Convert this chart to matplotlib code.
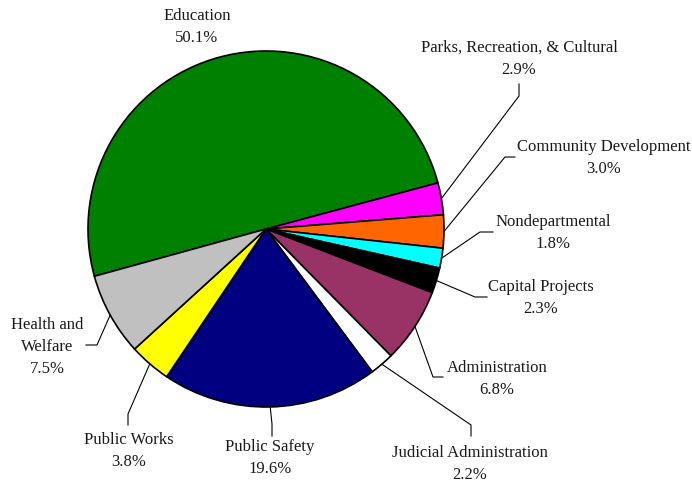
import numpy as np
import matplotlib.pyplot as plt

plt.rcParams['font.family'] = ['Liberation Serif', 'DejaVu Serif']

# data
categories = ['Education', 'Parks, Recreation, & Cultural', 'Community Development',
              'Nondepartmental', 'Capital Projects', 'Administration',
              'Judicial Administration', 'Public Safety', 'Public Works',
              'Health and\nWelfare']
shares = [50.1, 2.9, 3.0, 1.8, 2.3, 6.8, 2.2, 19.6, 3.8, 7.5]
colors = ['#008000', '#FF00FF', '#FF6600', '#00FFFF', '#000000', '#993366',
          '#FFFFFF', '#000080', '#FFFF00', '#C0C0C0']

W, H = 692, 485


def px(x, y):
    # image pixel coords -> axes coords (y up)
    return x, H - y


# label layout: text centre, leader elbow points (pixel coords)
label_pos = [(197, 27), (519, 59), (604, 158), (553, 233), (541, 298),
             (497, 379), (470, 464), (270, 458), (129, 451), (47, 347)]
elbows = [
    [],
    [(519, 97), (519, 85)],
    [(505, 158), (515, 158)],
    [(480, 233), (493, 233)],
    [(475, 298), (487, 298)],
    [(433, 378), (443, 378)],
    [(471, 426), (471, 437)],
    [(272, 425), (272, 437)],
    [(128, 415), (128, 426)],
    [(97, 346), (86, 346)],
]

fig = plt.figure(figsize=(W / 100, H / 100), dpi=100)
ax = fig.add_axes([0, 0, 1, 1])

cx, cy = px(266, 230)
r = 178
wedges, _ = ax.pie(shares, colors=colors, startangle=195.4, counterclock=False,
                   center=(cx, cy), radius=r, frame=True,
                   wedgeprops=dict(edgecolor='black', linewidth=1.2))
ax.set_xlim(0, W)
ax.set_ylim(0, H)
ax.set_aspect('equal')
ax.axis('off')

for w, name, val, pos, elb in zip(wedges, categories, shares, label_pos, elbows):
    tx, ty = px(*pos)
    ax.text(tx, ty, f'{name}\n{val:.1f}%', ha='center', va='center',
            fontsize=12, linespacing=1.5, color='#1a1a1a')
    if elb:
        mid = np.deg2rad((w.theta1 + w.theta2) / 2)
        ex, ey = cx + r * np.cos(mid), cy + r * np.sin(mid)
        xs = [ex] + [px(*p)[0] for p in elb]
        ys = [ey] + [px(*p)[1] for p in elb]
        ax.plot(xs, ys, color='black', linewidth=0.8)

fig.savefig('out.png', dpi=100, facecolor='white')
